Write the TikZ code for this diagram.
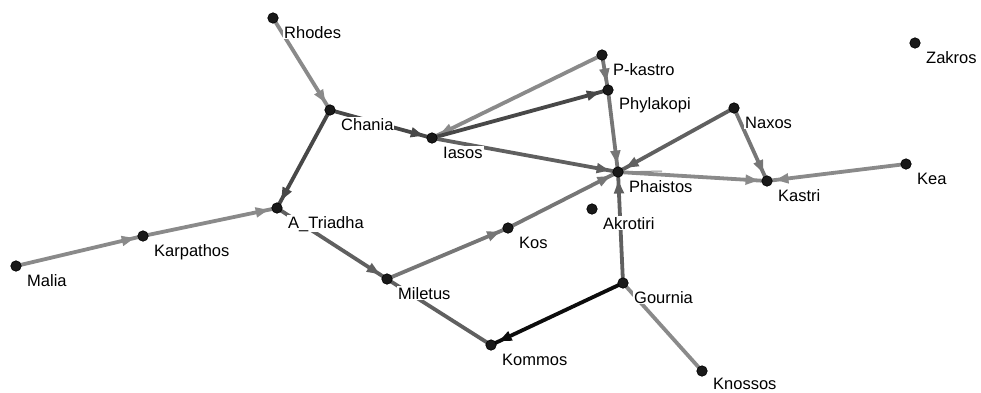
\documentclass[tikz,border=0pt]{standalone}
\usepackage{fontspec}
\setmainfont{Liberation Sans}
\usetikzlibrary{arrows.meta,decorations.markings,backgrounds}
\definecolor{eA}{RGB}{138,138,138}
\definecolor{eB}{RGB}{118,118,118}
\definecolor{eC}{RGB}{96,96,96}
\definecolor{eD}{RGB}{72,72,72}
\definecolor{eE}{RGB}{12,12,12}
\tikzset{
  dot/.style={circle, fill=black!90, draw=black, line width=0.6pt, minimum size=10.5pt, inner sep=0pt},
  lab/.style={anchor=base west, fill=white, inner sep=1pt, font=\fontsize{16.5}{18}\selectfont},
  edge/.style={line width=3.8pt, postaction={decorate},
    decoration={markings, mark=at position -8.5pt with {\arrow{Triangle[length=13pt,width=9.5pt]}}}},
  plain/.style={line width=3.8pt},
}
\begin{document}
\begin{tikzpicture}[x=1pt,y=-1pt]
\useasboundingbox (0,0) rectangle (981,392);
% nodes
\node[dot] (rhodes) at (273,18) {};
\node[dot] (chania) at (330,110) {};
\node[dot] (iasos) at (432,138) {};
\node[dot] (pkastro) at (602,55) {};
\node[dot] (phylakopi) at (608,90) {};
\node[dot] (naxos) at (734,108) {};
\node[dot] (zakros) at (915,43) {};
\node[dot] (phaistos) at (618,172) {};
\node[dot] (kastri) at (767,181) {};
\node[dot] (kea) at (906,164) {};
\node[dot] (akrotiri) at (592,209) {};
\node[dot] (atriadha) at (277,208) {};
\node[dot] (karpathos) at (143,236) {};
\node[dot] (malia) at (16,266) {};
\node[dot] (kos) at (508,228) {};
\node[dot] (miletus) at (387,279) {};
\node[dot] (gournia) at (623,283) {};
\node[dot] (kommos) at (491,345) {};
\node[dot] (knossos) at (702,371) {};
\coordinate (phr) at (662,171);
% labels
\node[lab] at ([shift={(10,20)}]rhodes) {Rhodes};
\node[lab] at ([shift={(10,20)}]chania) {Chania};
\node[lab] at ([shift={(10,20)}]iasos) {Iasos};
\node[lab] at ([shift={(10,20)}]pkastro) {P-kastro};
\node[lab] at ([shift={(10,19)}]phylakopi) {Phylakopi};
\node[lab] at ([shift={(10,20)}]naxos) {Naxos};
\node[lab] at ([shift={(10,20)}]zakros) {Zakros};
\node[lab] at ([shift={(10,20)}]phaistos) {Phaistos};
\node[lab] at ([shift={(10,20)}]kastri) {Kastri};
\node[lab] at ([shift={(10,20)}]kea) {Kea};
\node[lab] at ([shift={(10,20)}]akrotiri) {Akrotiri};
\node[lab] at ([shift={(10,20)}]atriadha) {A\_Triadha};
\node[lab] at ([shift={(10,20)}]karpathos) {Karpathos};
\node[lab] at ([shift={(10,20)}]malia) {Malia};
\node[lab] at ([shift={(10,20)}]kos) {Kos};
\node[lab] at ([shift={(10,20)}]miletus) {Miletus};
\node[lab] at ([shift={(10,20)}]gournia) {Gournia};
\node[lab] at ([shift={(10,20)}]kommos) {Kommos};
\node[lab] at ([shift={(10,18)}]knossos) {Knossos};
% edges
\begin{scope}[on background layer]
\draw[edge, eA] (rhodes.center) -- (chania.center);
\draw[edge, eD] (chania.center) -- (iasos.center);
\draw[edge, eD] (chania.center) -- (atriadha.center);
\draw[edge, eA] (malia.center) -- (karpathos.center);
\draw[edge, eA] (karpathos.center) -- (atriadha.center);
\draw[edge, eC] (atriadha.center) -- (miletus.center);
\draw[edge, eB] (miletus.center) -- (kos.center);
\draw[edge, eB] (kos.center) -- (phaistos.center);
\draw[plain, eC] (miletus.center) -- (kommos.center);
\draw[edge, eE] (gournia.center) -- (kommos.center);
\draw[edge, eC] (gournia.center) -- (phaistos.center);
\draw[plain, eA] (gournia.center) -- (knossos.center);
\draw[edge, eA] (pkastro.center) -- (iasos.center);
\draw[edge, eD] (iasos.center) -- (phylakopi.center);
\draw[edge, eB] (pkastro.center) -- (phylakopi.center);
\draw[edge, eB] (phylakopi.center) -- (phaistos.center);
\draw[edge, eC] (iasos.center) -- (phaistos.center);
\draw[edge, eC] (naxos.center) -- (phaistos.center);
\draw[edge, eB] (naxos.center) -- (kastri.center);
\draw[edge, eA] (phaistos.center) -- (kastri.center);
\draw[edge, eA] (kea.center) -- (kastri.center);
\draw[line width=1pt, eA] (phaistos.center) -- (phr);
\end{scope}
\end{tikzpicture}
\end{document}
